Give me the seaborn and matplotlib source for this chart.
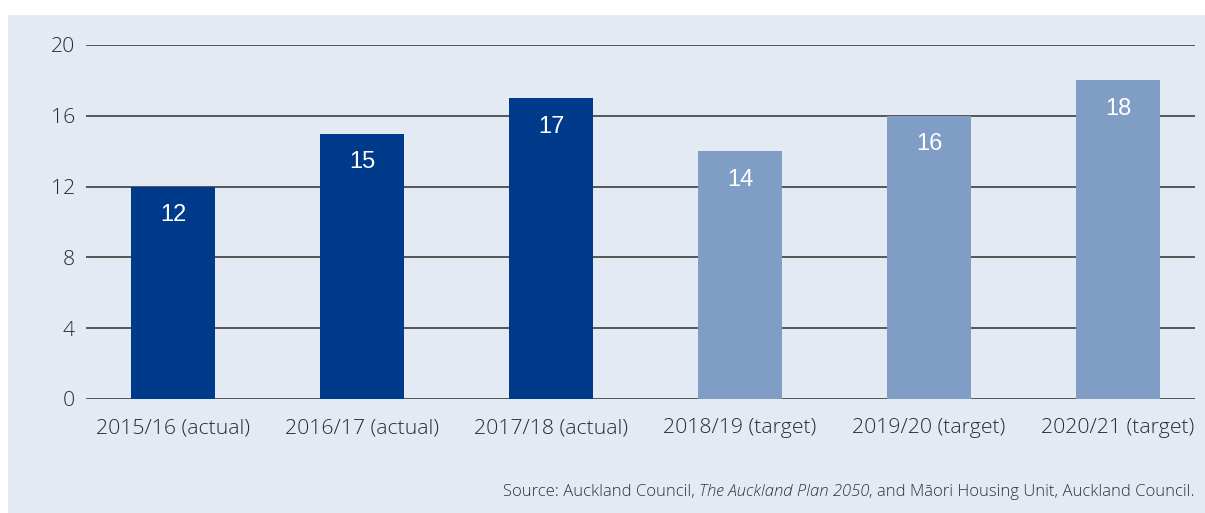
import matplotlib
matplotlib.use("Agg")
import matplotlib.pyplot as plt
import seaborn as sns
import pandas as pd
from matplotlib.patches import Rectangle

categories = ["2015/16 (actual)", "2016/17 (actual)", "2017/18 (actual)",
              "2018/19 (target)", "2019/20 (target)", "2020/21 (target)"]
values = [12, 15, 17, 14, 16, 18]
kinds = ["actual", "actual", "actual", "target", "target", "target"]
y_ticks = [0, 4, 8, 12, 16, 20]
source_parts = [("Source: Auckland Council, ", "normal"),
                ("The Auckland Plan 2050", "italic"),
                (", and Māori Housing Unit, Auckland Council.", "normal")]

df = pd.DataFrame({"period": categories, "value": values, "kind": kinds})
palette = {"actual": "#003a8a", "target": "#7f9dc5"}

sns.set_theme(style="white")
plt.rcParams["font.family"] = ["Open Sans", "DejaVu Sans"]

W, H = 1205, 513
fig = plt.figure(figsize=(W / 100, H / 100), dpi=100)
bg = "#e4eaf3"
fig.patches.append(Rectangle((8 / W, 0), 1 - 8 / W, 1 - 15 / H,
                             transform=fig.transFigure, facecolor=bg,
                             edgecolor="none", zorder=-10))

ax = fig.add_axes([86 / W, 1 - 399 / H, (1195 - 86) / W, (399 - 45) / H])
ax.set_facecolor("none")

sns.barplot(data=df, x="period", y="value", hue="kind", palette=palette,
            dodge=False, width=0.444, legend=False, ax=ax,
            saturation=1, linewidth=0, edgecolor="none", zorder=3)

ax.set_ylim(0, 20)
ax.set_xlim(-0.46, 5.407)
ax.set_yticks(y_ticks)
ax.set_yticklabels([str(t) for t in y_ticks])
for t in y_ticks:
    ax.axhline(t, color="#555555", linewidth=1.4, zorder=1)

for side in ["top", "right", "left", "bottom"]:
    ax.spines[side].set_visible(False)
ax.tick_params(axis="both", length=0, labelsize=15.3, colors="#2b2b2b")
ax.tick_params(axis="y", pad=8)
ax.tick_params(axis="x", pad=14)
for lbl in ax.get_xticklabels() + ax.get_yticklabels():
    lbl.set_fontweight("light")
ax.set_xlabel("")
ax.set_ylabel("")

for i, v in enumerate(values):
    ax.text(i, v - 1.62, str(v), ha="center", va="center",
            color="white", fontsize=17, family=["Liberation Sans"], zorder=5)

# Source line: plain / italic / plain pieces laid out right to left
renderer = fig.canvas.get_renderer()
x_right = 1195 / W
y_src = 1 - 492 / H
for text, style in reversed(source_parts):
    t = fig.text(x_right, y_src, text, ha="right", va="center",
                 fontsize=12, color="#333333", style=style, fontweight="light")
    bb = t.get_window_extent(renderer=renderer)
    x_right -= bb.width / W

fig.savefig("out.png", dpi=100, facecolor="white")
